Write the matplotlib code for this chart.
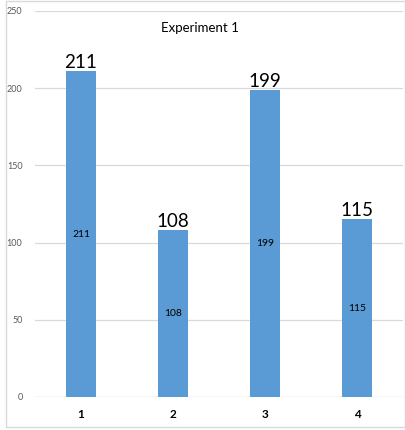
import matplotlib.pyplot as plt
from matplotlib.patches import Rectangle

categories = ["1", "2", "3", "4"]
values = [211, 108, 199, 115]
yticks = [0, 50, 100, 150, 200, 250]

plt.rcParams['font.family'] = ['Lato', 'DejaVu Sans']

fig = plt.figure(figsize=(4.06, 4.30), dpi=100)
ax = fig.add_axes([35 / 406, 1 - 397 / 430, 368 / 406, 386 / 430])

x = range(len(categories))
bars = ax.bar(x, values, width=0.32, color="#5B9BD5", zorder=3)

for b, v in zip(bars, values):
    cx = b.get_x() + b.get_width() / 2
    ax.text(cx, v, str(v), ha="center", va="bottom", fontsize=13.5, color="black", zorder=4)
    ax.text(cx, v / 2, str(v), ha="center", va="center", fontsize=7.5, color="black", zorder=4)

ax.set_xlim(-0.5, len(categories) - 0.5)
ax.set_ylim(0, 250)
ax.set_yticks(yticks)
ax.set_xticks(list(x))
ax.set_xticklabels(categories, fontweight="bold", fontsize=8.5)
ax.tick_params(axis="y", length=0, pad=9, labelsize=6.5, labelcolor="#595959")
ax.tick_params(axis="x", length=0, pad=9)
ax.grid(axis="y", color="#D9D9D9", linewidth=0.9, zorder=0)
for s in ax.spines.values():
    s.set_visible(False)
ax.axhline(0, color="#D9D9D9", linewidth=0.9, zorder=1)

fig.text(200 / 406, 1 - 28 / 430, "Experiment 1", ha="center", va="center", fontsize=9.5)

# light frame around the whole chart
fig.patches.append(Rectangle((6 / 406, 3 / 430), 399 / 406, 426 / 430, transform=fig.transFigure,
                             fill=False, edgecolor="#D9D9D9", linewidth=1))

fig.savefig("out.png", dpi=100)
